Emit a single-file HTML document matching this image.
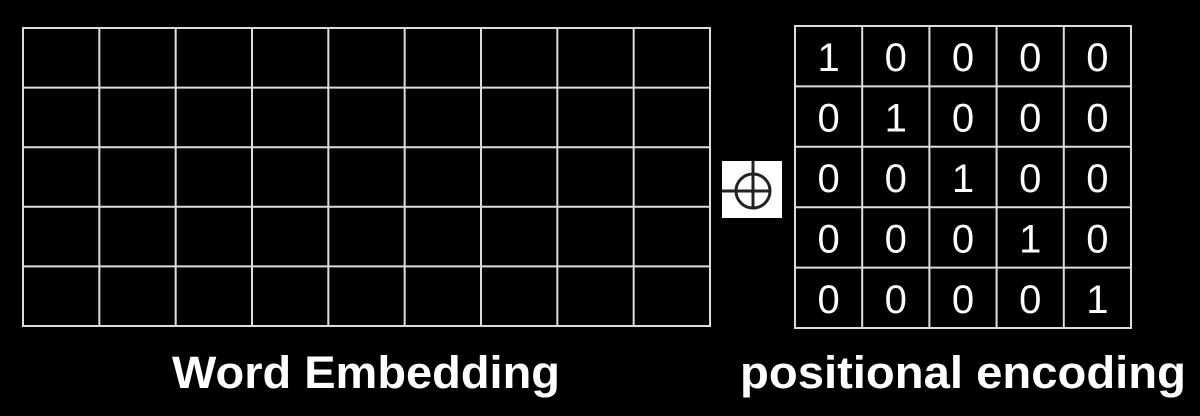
<!DOCTYPE html>
<html><head><meta charset="utf-8"><style>
html,body{margin:0;padding:0;background:#000;}
svg{display:block;}
</style></head><body>
<svg width="1200" height="416" viewBox="0 0 1200 416">
<g id="left"></g>
<g id="right"></g>
<g>
<rect x="722" y="161" width="60" height="57" fill="#fff"/>
<circle cx="753" cy="191" r="17" fill="none" stroke="#222" stroke-width="3"/>
<line x1="753" y1="161" x2="753" y2="207" stroke="#222" stroke-width="3"/>
<line x1="722" y1="191" x2="769" y2="191" stroke="#222" stroke-width="3"/>
</g>
<text x="366" y="388" text-anchor="middle" font-family="Liberation Sans, sans-serif" font-weight="bold" font-size="45" fill="#fff" textLength="388" lengthAdjust="spacingAndGlyphs">Word Embedding</text>
<text x="963" y="388" text-anchor="middle" font-family="Liberation Sans, sans-serif" font-weight="bold" font-size="45" fill="#fff" textLength="446" lengthAdjust="spacingAndGlyphs">positional encoding</text>
</svg>
<script>
const matrix=[[1,0,0,0,0],[0,1,0,0,0],[0,0,1,0,0],[0,0,0,1,0],[0,0,0,0,1]];
const NS="http://www.w3.org/2000/svg";
function grid(g,x0,y0,x1,y1,cols,rows){
  for(let i=0;i<=cols;i++){const x=x0+(x1-x0)*i/cols;const l=document.createElementNS(NS,'line');
    l.setAttribute('x1',x);l.setAttribute('x2',x);l.setAttribute('y1',y0);l.setAttribute('y2',y1);
    l.setAttribute('stroke','#ddd');l.setAttribute('stroke-width','2');
    
    
    g.appendChild(l);}
  for(let j=0;j<=rows;j++){const y=y0+(y1-y0)*j/rows;const l=document.createElementNS(NS,'line');
    l.setAttribute('x1',x0-1);l.setAttribute('x2',x1+1);l.setAttribute('y1',y);l.setAttribute('y2',y);
    l.setAttribute('stroke','#ddd');l.setAttribute('stroke-width','2');
    
    
    g.appendChild(l);}
}
grid(document.getElementById('left'),23,28,710,326,9,5);
const R=document.getElementById('right');
grid(R,795,26,1131,328,5,5);
const cw=(1131-795)/5,ch=(328-26)/5;
matrix.forEach((row,r)=>row.forEach((v,c)=>{
  const t=document.createElementNS(NS,'text');
  t.setAttribute('x',795+cw*(c+0.5));t.setAttribute('y',26+ch*(r+0.5)+15);
  t.setAttribute('text-anchor','middle');t.setAttribute('fill','#fff');
  t.setAttribute('font-family','Liberation Sans, sans-serif');t.setAttribute('font-size','40');
  t.textContent=v;
  
  
  R.appendChild(t);
}));
</script>
</body></html>
